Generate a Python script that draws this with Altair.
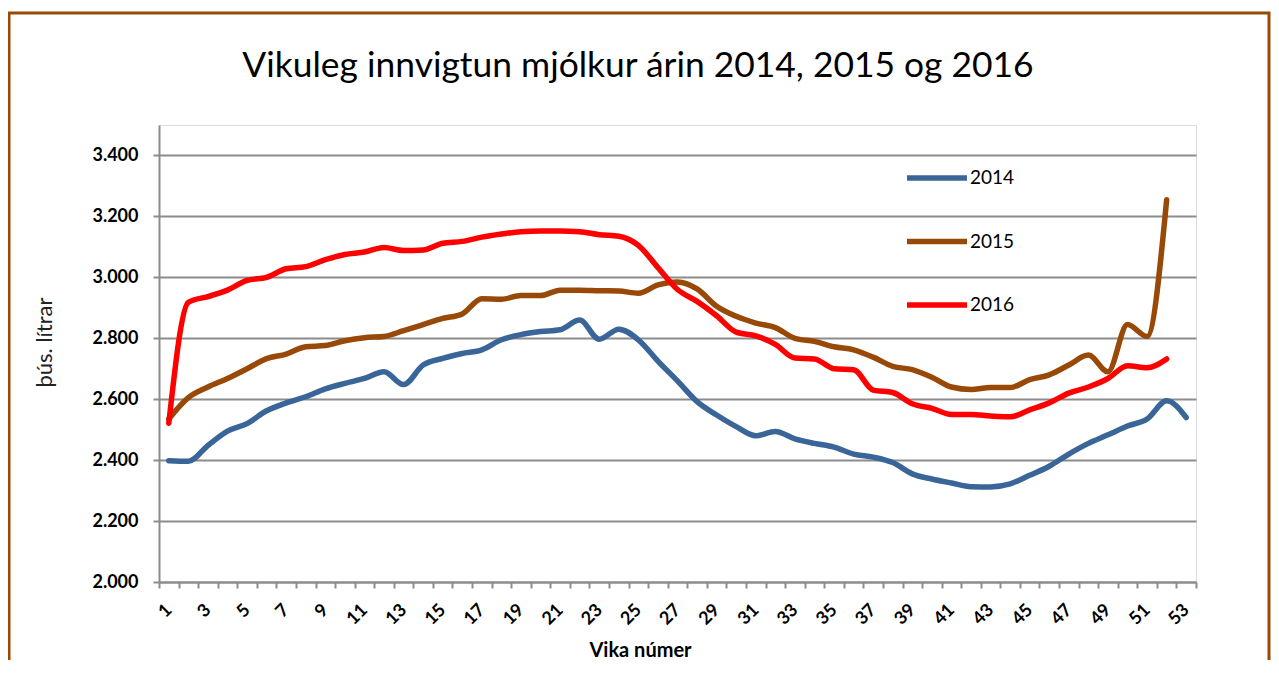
import altair as alt
import pandas as pd

TITLE = "Vikuleg innvigtun mjólkur árin 2014, 2015 og 2016"
weeks = list(range(1, 54))
series = ["2014", "2015", "2016"]
colors = ["#3A6598", "#984807", "#FF0000"]
y_ticks = [2000, 2200, 2400, 2600, 2800, 3000, 3200, 3400]

v2014 = [2398, 2396, 2448, 2495, 2520, 2562, 2588, 2608, 2634, 2652,
         2668, 2690, 2648, 2712, 2734, 2750, 2762, 2795, 2812, 2822,
         2828, 2860, 2797, 2830, 2795, 2725, 2660, 2592, 2548, 2510,
         2480, 2494, 2470, 2455, 2443, 2420, 2410, 2392, 2355, 2338,
         2325, 2313, 2312, 2322, 2350, 2380, 2420, 2455, 2483, 2512,
         2535, 2595, 2540]
v2015 = [2535, 2605, 2640, 2668, 2700, 2733, 2748, 2772, 2776, 2792,
         2802, 2806, 2825, 2845, 2865, 2880, 2930, 2928, 2940, 2940,
         2958, 2958, 2956, 2955, 2948, 2975, 2985, 2962, 2905, 2872,
         2850, 2835, 2800, 2790, 2772, 2762, 2738, 2708, 2697, 2672,
         2640, 2632, 2638, 2638, 2664, 2680, 2712, 2745, 2690, 2845,
         2806, 3255]
v2016 = [2521, 2918, 2937, 2958, 2990, 3000, 3028, 3035, 3058, 3075,
         3083, 3098, 3088, 3090, 3112, 3118, 3132, 3142, 3150, 3152,
         3152, 3150, 3140, 3135, 3105, 3032, 2960, 2921, 2874, 2820,
         2808, 2780, 2735, 2732, 2700, 2697, 2630, 2622, 2585, 2570,
         2550, 2550, 2545, 2542, 2565, 2588, 2620, 2640, 2668, 2710,
         2703, 2732]

rows = []
for s, vals in zip(series, [v2014, v2015, v2016]):
    for w, v in zip(weeks, vals):
        rows.append({"week": w, "value": v, "series": s})
df = pd.DataFrame(rows)

GRID = "#8C8C8C"
FONT = "Lato"

lines = alt.Chart(df).mark_line(
    strokeWidth=5.5, interpolate="monotone", strokeCap="round", strokeJoin="round"
).encode(
    x=alt.X(
        "week:O",
        scale=alt.Scale(type="band", domain=weeks, paddingInner=0, paddingOuter=0),
        axis=alt.Axis(
            tickBand="extent",
            labelExpr="datum.value % 2 == 1 ? datum.label : ''",
            labelAngle=-45,
            labelAlign="right",
            labelBaseline="middle",
            labelPadding=19,
            labelFont=FONT,
            labelFontSize=18,
            labelFontWeight="bold",
            labelColor="black",
            labelOverlap=False,
            grid=False,
            domainColor=GRID,
            domainWidth=2,
            tickColor=GRID,
            tickWidth=2,
            tickSize=6,
            title="Vika númer",
            titleFont=FONT,
            titleFontSize=20,
            titleFontWeight="bold",
            titleColor="black",
            titleX=481,
            titleY=68,
            titleAlign="center",
            titleBaseline="middle",
        ),
    ),
    y=alt.Y(
        "value:Q",
        scale=alt.Scale(domain=[2000, 3500], nice=False, zero=False),
        axis=alt.Axis(
            values=y_ticks,
            labelExpr="replace(format(datum.value, ','), ',', '.')",
            labelFont=FONT,
            labelFontSize=18,
            labelFontWeight="bold",
            labelColor="black",
            labelPadding=15,
            grid=True,
            gridColor=GRID,
            gridWidth=2,
            domainColor=GRID,
            domainWidth=2,
            tickColor=GRID,
            tickWidth=2,
            tickSize=6,
            title="þús. lítrar",
            titleFont=FONT,
            titleFontSize=22,
            titleFontWeight="normal",
            titleColor="#222222",
            titleX=-115,
            titleY=217,
            titleAngle=-90,
            titleAlign="center",
            titleBaseline="middle",
        ),
    ),
    color=alt.Color(
        "series:N",
        scale=alt.Scale(domain=series, range=colors),
        legend=alt.Legend(
            title=None,
            orient="none",
            legendX=745,
            legendY=20,
            symbolType="stroke",
            symbolSize=3600,
            symbolStrokeWidth=5.5,
            labelFont=FONT,
            labelFontSize=19,
            labelColor="black",
            labelOffset=0,
            rowPadding=19.5,
        ),
    ),
)

border = alt.Chart(alt.Data(values=[{}])).mark_rect(
    fillOpacity=0, stroke="#984807", strokeWidth=3
).encode(
    x=alt.value(-150), x2=alt.value(1110), y=alt.value(-112), y2=alt.value(600)
)

title = alt.Chart(alt.Data(values=[{"t": TITLE}])).mark_text(
    font=FONT, fontSize=35.4, fontWeight="normal", color="black",
    align="center", baseline="alphabetic"
).encode(
    text="t:N", x=alt.value(479), y=alt.value(-48)
)

chart = alt.layer(border, title, lines).properties(
    width=1037,
    height=457,
    autosize="none",
    padding={"left": 151, "top": 117, "right": 75, "bottom": 78},
).configure_view(stroke=None).configure(background="white")

chart.save("out.html", embed_options={"renderer": "svg", "actions": False})
